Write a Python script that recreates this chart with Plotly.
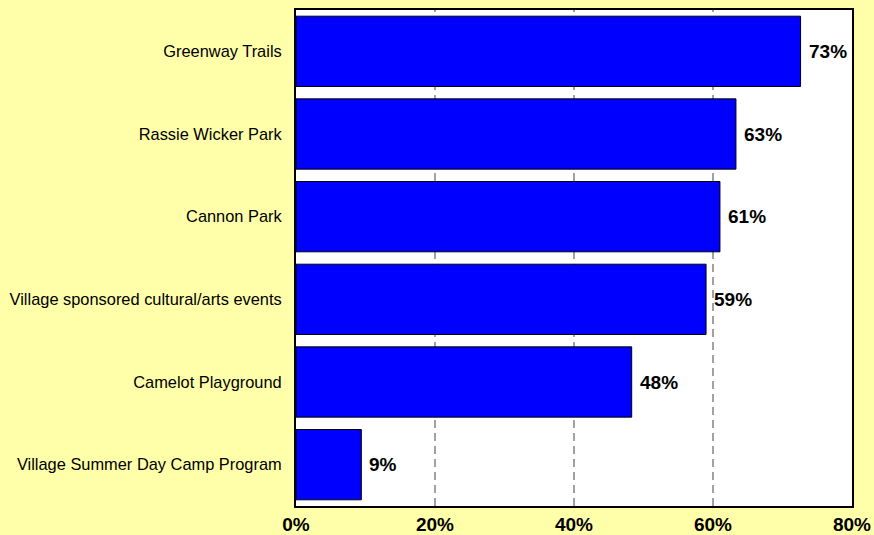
import plotly.graph_objects as go

categories = [
    "Village Summer Day Camp Program",
    "Camelot Playground",
    "Village sponsored cultural/arts events",
    "Cannon Park",
    "Rassie Wicker Park",
    "Greenway Trails",
]
values = [9.4, 48.3, 59.0, 61.0, 63.3, 72.6]
labels = ["9%", "48%", "59%", "61%", "63%", "73%"]
x_ticks = [0, 20, 40, 60, 80]
x_tick_labels = ["0%", "20%", "40%", "60%", "80%"]

BG = "#FFFFAA"
FONT = "Liberation Sans, Arial, sans-serif"

fig = go.Figure()
fig.add_trace(go.Bar(
    x=values, y=categories, orientation="h",
    marker=dict(color="#0000FF", line=dict(color="#000000", width=1)),
    width=0.85, hoverinfo="skip",
))

for v, c, t in zip(values, categories, labels):
    fig.add_annotation(x=v, y=c, text=f"<b>{t}</b>", showarrow=False,
                       xanchor="left", yanchor="middle", xshift=6,
                       font=dict(family=FONT, size=19, color="#000000"))

for g in [20, 40, 60]:
    fig.add_shape(type="line", x0=g, x1=g, y0=0, y1=1, xref="x", yref="paper",
                  line=dict(color="#444444", width=1, dash="8px,5px"), layer="below")

fig.update_layout(
    width=874, height=535,
    margin=dict(l=296, r=22, t=10, b=29, autoexpand=False),
    paper_bgcolor=BG, plot_bgcolor="#FFFFFF",
    showlegend=False,
    bargap=0.15,
    font=dict(family=FONT, color="#000000"),
)
fig.update_xaxes(range=[0, 80], tickvals=x_ticks, ticktext=x_tick_labels,
                 showgrid=False, zeroline=False, automargin=False,
                 showline=True, linecolor="#000000", linewidth=2, mirror=True,
                 ticks="", tickfont=dict(family=FONT, size=19, color="#000000", weight="bold"),
                 ticklabelstandoff=0)
fig.update_yaxes(range=[-0.5, 5.5], showgrid=False, zeroline=False, automargin=False,
                 showline=True, linecolor="#000000", linewidth=2, mirror=True,
                 ticks="", tickfont=dict(family=FONT, size=16.4, color="#000000"),
                 ticklabelstandoff=9)

fig.write_html(
    "out.html",
    config={"displayModeBar": False},
    post_script="document.body.style.margin='0';document.body.style.background='#FFFFAA';",
)
